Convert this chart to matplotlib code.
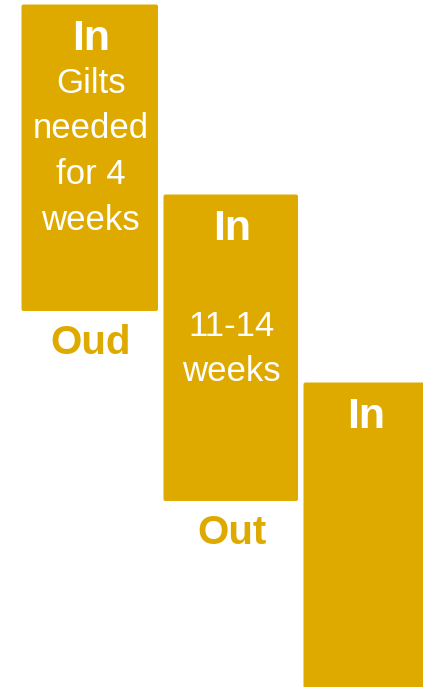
import matplotlib.pyplot as plt
from matplotlib.patches import FancyBboxPatch

# three stages, each a box with a bold title, body text and an exit label
titles = ['In', 'In', 'In']
bodies = [['Gilts', 'needed', 'for 4', 'weeks'],
          ['', '11-14', 'weeks'],
          []]
exits = ['Oud', 'Out', '']

# box geometry in pixels (y measured downwards)
box_left = [21.5, 163.5, 303.5]
box_right = [158.0, 298.0, 427.0]
box_top = [4.5, 194.5, 382.5]
box_bottom = [311.0, 501.0, 720.0]
body_start = [93, 290, 0]

gold = '#DFAA00'
plt.rcParams['font.family'] = ['Liberation Sans', 'DejaVu Sans']

fig = plt.figure(figsize=(4.23, 6.87), dpi=100)
ax = fig.add_axes([0, 0, 1, 1])
ax.set_xlim(0, 423)
ax.set_ylim(687, 0)
ax.axis('off')

for i in range(3):
    x0, x1 = box_left[i], box_right[i]
    y0, y1 = box_top[i], box_bottom[i]
    ax.add_patch(FancyBboxPatch((x0 + 2, y0 + 2), x1 - x0 - 4, y1 - y0 - 4,
                                boxstyle='round,pad=2,rounding_size=2',
                                fc=gold, ec='none'))
    cx = (x0 + x1) / 2 + 1
    ax.text(cx, y0 + 45, titles[i], color='white', fontsize=31,
            fontweight='bold', ha='center', va='baseline')
    for j, line in enumerate(bodies[i]):
        ax.text(cx, body_start[i] + 45.5 * j, line, color='white',
                fontsize=25, ha='center', va='baseline')
    if exits[i]:
        ax.text(cx, y1 + 43, exits[i], color=gold, fontsize=29,
                fontweight='bold', ha='center', va='baseline')

fig.savefig('out.png', dpi=100)
